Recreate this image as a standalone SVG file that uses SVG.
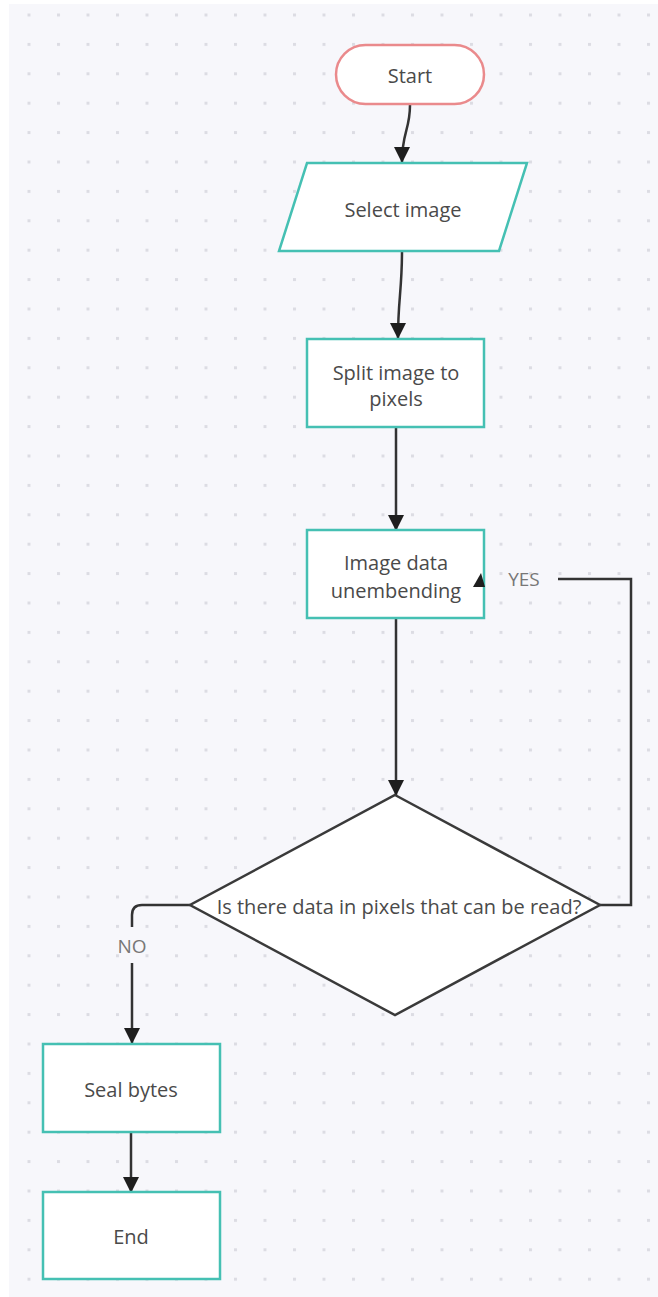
<svg xmlns="http://www.w3.org/2000/svg" width="658" height="1297" viewBox="0 0 658 1297">
  <defs>
    <pattern id="grid" x="27.5" y="13.5" width="29.5" height="29.4" patternUnits="userSpaceOnUse">
      <rect x="0" y="0" width="3" height="3" fill="#dcdce3"/>
    </pattern>
    <marker id="arrow" viewBox="0 0 16 16" refX="15" refY="8" markerWidth="16" markerHeight="16" markerUnits="userSpaceOnUse" orient="auto">
      <path d="M0,0 L16,8 L0,16 Z" fill="#1e1e1e"/>
    </marker>
    <style>
      .node { fill: #ffffff; stroke: #45c0b3; stroke-width: 2.5; }
      .term { fill: #ffffff; stroke: #ea8a8c; stroke-width: 2.5; }
      .diam { fill: #ffffff; stroke: #3a3a3a; stroke-width: 2.5; }
      .edge { fill: none; stroke: #333333; stroke-width: 2.5; }
      .lbl { font-family: "Open Sans", "Noto Sans", sans-serif; font-size: 20px; fill: #4a4a4a; text-anchor: middle; dominant-baseline: central; }
      .elbl { font-family: "Open Sans", "Noto Sans", sans-serif; font-size: 19px; fill: #777777; text-anchor: middle; dominant-baseline: central; }
    </style>
  </defs>

  <!-- canvas -->
  <rect x="0" y="0" width="658" height="1297" fill="#ffffff"/>
  <rect x="9" y="4" width="649" height="1293" fill="#f7f7fb"/>
  <rect x="9" y="4" width="649" height="1293" fill="url(#grid)"/>

  <!-- connectors -->
  <g id="connectors">
    <path class="edge" d="M410,105 C410,130 402,132 402,162" marker-end="url(#arrow)"/>
    <path class="edge" d="M402,251 C402,290 398,300 398,338" marker-end="url(#arrow)"/>
    <path class="edge" d="M396,427 L396,530" marker-end="url(#arrow)"/>
    <path class="edge" d="M396,618 L396,795" marker-end="url(#arrow)"/>
    <!-- YES branch back to the unembedding step -->
    <path class="edge" d="M600,905 L631,905 L631,579 L558,579"/>
    <text class="elbl" x="524" y="579">YES</text>
    <!-- NO branch down to Seal bytes -->
    <path class="edge" d="M190,905 L142,905 Q132,905 132,915 L132,927"/>
    <path class="edge" d="M132,963 L132,1043" marker-end="url(#arrow)"/>
    <text class="elbl" x="132" y="946">NO</text>
    <path class="edge" d="M131,1132 L131,1192" marker-end="url(#arrow)"/>
  </g>

  <g id="start">
    <rect class="term" x="336" y="45" width="148" height="59" rx="29.5" ry="29.5"/>
    <text class="lbl" x="410" y="75">Start</text>
  </g>

  <g id="select-image">
    <polygon class="node" points="307,163 527,163 499,251 279,251"/>
    <text class="lbl" x="403" y="209">Select image</text>
  </g>

  <g id="split-image">
    <rect class="node" x="307" y="339" width="177" height="88"/>
    <text class="lbl" x="396" y="372">Split image to</text>
    <text class="lbl" x="396" y="398">pixels</text>
  </g>

  <g id="unembed">
    <rect class="node" x="307" y="530" width="177" height="88"/>
    <text class="lbl" x="396" y="562">Image data</text>
    <text class="lbl" x="396" y="590">unembending</text>
  </g>

  <g id="decision">
    <polygon class="diam" points="395,795 600,905 395,1015 190,905"/>
    <text class="lbl" x="399" y="906">Is there data in pixels that can be read?</text>
  </g>

  <g id="seal-bytes">
    <rect class="node" x="43" y="1044" width="177" height="88"/>
    <text class="lbl" x="131" y="1089">Seal bytes</text>
  </g>

  <g id="end">
    <rect class="node" x="43" y="1192" width="177" height="87"/>
    <text class="lbl" x="131" y="1236">End</text>
  </g>

  <!-- YES arrowhead, drawn over the step box edge -->
  <g id="yes-head">
    <polygon points="481,573 485,587 473,587" fill="#1e1e1e"/>
  </g>
</svg>
